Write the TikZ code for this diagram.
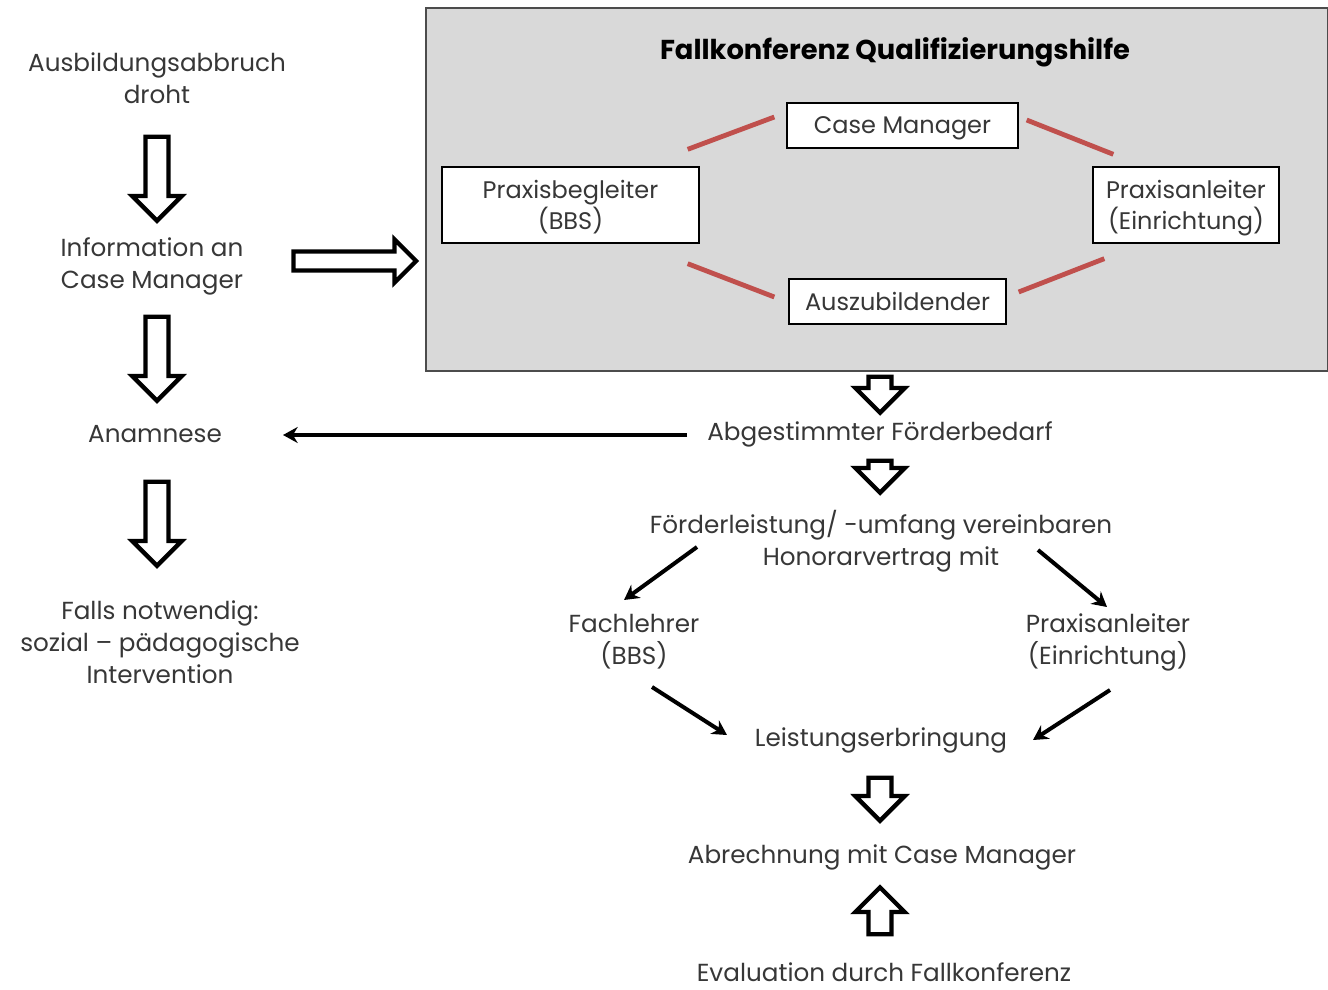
\documentclass[tikz,border=0pt]{standalone}
\usepackage{fontspec}
\setmainfont{Poppins}
\usepackage{tikz}
\usetikzlibrary{positioning,shapes.arrows,arrows.meta}
\definecolor{textGray}{RGB}{55,55,55}
\definecolor{panelGray}{RGB}{217,217,217}
\definecolor{linkRed}{RGB}{192,80,77}
\tikzstyle{stepText} = [font=\fontsize{18.5}{24}\selectfont, text=textGray, align=center, inner sep=0pt]
\tikzstyle{roleBox} = [draw=black, fill=white, line width=1pt, font=\fontsize{18}{23}\selectfont, text=textGray, align=center, inner sep=0pt, text depth=0pt]
\tikzstyle{hollowArrow} = [single arrow, draw=black, fill=white, line width=3.2pt, inner xsep=0pt, inner ysep=7pt, single arrow head extend=10pt, minimum width=0pt]
\tikzstyle{linkLine} = [draw=linkRed, line width=3.6pt]
\tikzstyle{flowArrow} = [draw=black, line width=3pt, -{Stealth[length=11pt,width=12pt]}]
\begin{document}
\begin{tikzpicture}[x=0.75pt, y=-0.75pt]
  \useasboundingbox (0,0) rectangle (1328,989);
  \node [draw=black!70, fill=panelGray, line width=1.2pt, minimum width=676.5pt, minimum height=272.25pt] (konf) at (877,189.5) {};
  \node [font=\fontsize{20.5}{24}\selectfont\bfseries, text=black] (konfTitle) at (895,52) {Fallkonferenz Qualifizierungshilfe};
  \node [roleBox, minimum width=173.25pt, minimum height=33.75pt] (caseM) at (902.5,125.5) {Case Manager};
  \node [roleBox, minimum width=192.75pt, minimum height=57pt] (begleiter) at (570.5,205) {Praxisbegleiter\\(BBS)};
  \node [roleBox, minimum width=139.5pt, minimum height=57pt] (anleiter) at (1186,205) {Praxisanleiter\\(Einrichtung)};
  \node [roleBox, minimum width=162.75pt, minimum height=33.75pt] (azubi) at (897.5,301.5) {Auszubildender};
  \draw [linkLine] ([shift={(-12,-17)}]begleiter.north east) -- ([shift={(-12,-8.5)}]caseM.west);
  \draw [linkLine] ([shift={(8,-5.5)}]caseM.east) -- ([shift={(21,-12)}]anleiter.north west);
  \draw [linkLine] ([shift={(-12,20)}]begleiter.south east) -- ([shift={(-14,-4.5)}]azubi.west);
  \draw [linkLine] ([shift={(12,-9.5)}]azubi.east) -- ([shift={(12,15)}]anleiter.south west);

  \node [stepText] (droht) at (157,78) {Ausbildungsabbruch\\droht};
  \node [stepText] (info) at (152,266) {Information an\\Case Manager};
  \node [stepText] (anamnese) at (155,434) {Anamnese};
  \node [stepText] (falls) at (160,642) {Falls notwendig:\\sozial -- pädagogische\\Intervention};
  \node [hollowArrow, rotate=-90, minimum height=63pt] (downA) at (157,173) {};
  \node [hollowArrow, minimum height=92pt, inner ysep=5.5pt, single arrow head extend=9pt] (rightA) at (350,261) {};
  \node [hollowArrow, rotate=-90, minimum height=63pt] (downB) at (157,353) {};
  \node [hollowArrow, rotate=-90, minimum height=63pt] (downC) at (157,518) {};

  \node [stepText] (bedarf) at (880,434) {Abgestimmter Förderbedarf};
  \node [stepText] (foerder) at (881,541) {Förderleistung/ -umfang vereinbaren\\Honorarvertrag mit};
  \node [stepText] (fachlehrer) at (634,642) {Fachlehrer\\(BBS)};
  \node [stepText] (praxis) at (1108,642) {Praxisanleiter\\(Einrichtung)};
  \node [stepText] (leistung) at (881,740) {Leistungserbringung};
  \node [stepText] (abrechnung) at (882,857) {Abrechnung mit Case Manager};
  \node [stepText] (evaluation) at (884,972) {Evaluation durch Fallkonferenz};
  \node [hollowArrow, rotate=-90, minimum height=27pt] (downD) at (880,389) {};
  \node [hollowArrow, rotate=-90, minimum height=24pt] (downE) at (880,471) {};
  \node [hollowArrow, rotate=-90, minimum height=32.25pt] (downF) at (880,793.5) {};
  \node [hollowArrow, rotate=90, minimum height=35.25pt] (upA) at (880,916.5) {};

  \draw [flowArrow] ([shift={(-193,1)}]bedarf.center) -- ([shift={(128,1)}]anamnese.center);
  \draw [flowArrow] ([shift={(-184,6)}]foerder.center) -- ([shift={(-10,-42)}]fachlehrer.center);
  \draw [flowArrow] ([shift={(157,9)}]foerder.center) -- ([shift={(-1,-35)}]praxis.center);
  \draw [flowArrow] ([shift={(18,45)}]fachlehrer.center) -- ([shift={(-154,-5)}]leistung.center);
  \draw [flowArrow] ([shift={(2,48)}]praxis.center) -- ([shift={(152,0)}]leistung.center);
\end{tikzpicture}
\end{document}
